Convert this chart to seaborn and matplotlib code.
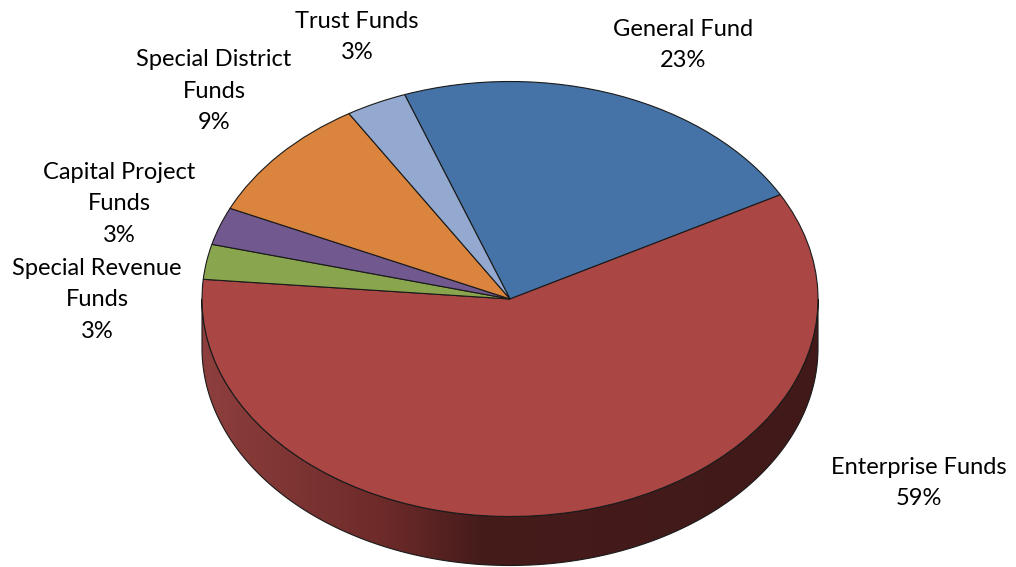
import numpy as np
import matplotlib
matplotlib.use("Agg")
import matplotlib.pyplot as plt
from matplotlib.patches import Polygon
from matplotlib.colors import LinearSegmentedColormap
import seaborn as sns

# data, clockwise from the top
funds = ['General Fund', 'Enterprise Funds', 'Special Revenue\nFunds',
         'Capital Project\nFunds', 'Special District\nFunds', 'Trust Funds']
shares = [22.6, 59.4, 2.6, 2.8, 9.4, 3.2]
pct_labels = ['23%', '59%', '3%', '3%', '9%', '3%']
colors = ['#4572A7', '#AA4643', '#89A54E', '#71588F', '#DB843D', '#93A9CF']

sns.set_theme(style='white')
plt.rcParams['font.family'] = ['Lato', 'DejaVu Sans']

W, H = 1016, 567
cx, cy = 510, 299      # centre of the pie top, px
rx, ry = 308, 217.5    # semi axes of the top ellipse, px
depth = 49 / ry        # thickness of the disc in y units

fig = plt.figure(figsize=(W / 100, H / 100), dpi=100)
ax = fig.add_axes([0, 0, 1, 1])

wedges, _ = ax.pie(shares, colors=colors, startangle=110, counterclock=False,
                   radius=1, center=(0, 0), frame=True,
                   wedgeprops=dict(edgecolor='#1a1a1a', linewidth=0.8, zorder=2))

# side of the disc (only the front half shows)
t = np.linspace(np.pi, 2 * np.pi, 400)
top = np.column_stack([np.cos(t), np.sin(t)])
bot = np.column_stack([np.cos(t[::-1]), np.sin(t[::-1]) - depth])
side = Polygon(np.vstack([top, bot]), closed=True, facecolor='none',
               edgecolor='#1a1a1a', linewidth=0.8, zorder=1.5)
ax.add_patch(side)

side_cmap = LinearSegmentedColormap.from_list(
    'side', [(0.0, '#8e3f3d'), (0.3, '#6c2a29'), (0.45, '#461c1b'), (1.0, '#401918')])
im = ax.imshow(np.linspace(0, 1, 512)[None, :], cmap=side_cmap,
               extent=(-1, 1, -1 - depth, 0), aspect='auto', zorder=1)
im.set_clip_path(side)

# labels
label_px = [(683, 45), (919, 483), (97, 300), (119, 204), (214, 91), (357, 37)]
for name, pct, (px, py) in zip(funds, pct_labels, label_px):
    ax.text((px - cx) / rx, (cy - py) / ry, f'{name}\n{pct}', ha='center', va='center',
            multialignment='center', fontsize=17, color='#000000', linespacing=1.6)

ax.set_xlim(-cx / rx, (W - cx) / rx)
ax.set_ylim(-(H - cy) / ry, cy / ry)
ax.set_aspect('auto')
ax.axis('off')

fig.savefig('out.png', dpi=100)
